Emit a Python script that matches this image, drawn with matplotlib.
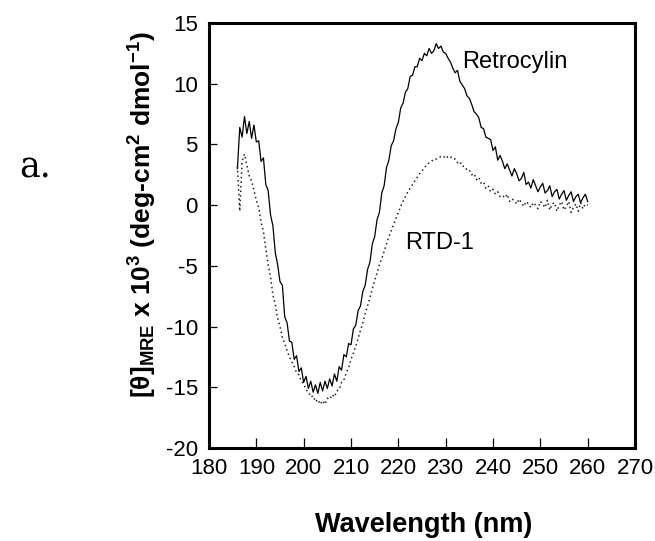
import matplotlib
matplotlib.use("Agg")
import matplotlib.pyplot as plt

plt.rcParams['font.family'] = ['Liberation Sans', 'DejaVu Sans']
plt.rcParams['axes.unicode_minus'] = False
plt.rcParams['mathtext.fontset'] = 'custom'
plt.rcParams['mathtext.rm'] = 'Liberation Sans:bold'
plt.rcParams['mathtext.bf'] = 'Liberation Sans:bold'
plt.rcParams['mathtext.it'] = 'Liberation Sans:bold'

wavelength = [
    186.0, 186.5, 187.0, 187.5, 188.0, 188.5, 189.0, 189.5, 190.0, 190.5,
    191.0, 191.5, 192.0, 192.5, 193.0, 193.5, 194.0, 194.5, 195.0, 195.5,
    196.0, 196.5, 197.0, 197.5, 198.0, 198.5, 199.0, 199.5, 200.0, 200.5,
    201.0, 201.5, 202.0, 202.5, 203.0, 203.5, 204.0, 204.5, 205.0, 205.5,
    206.0, 206.5, 207.0, 207.5, 208.0, 208.5, 209.0, 209.5, 210.0, 210.5,
    211.0, 211.5, 212.0, 212.5, 213.0, 213.5, 214.0, 214.5, 215.0, 215.5,
    216.0, 216.5, 217.0, 217.5, 218.0, 218.5, 219.0, 219.5, 220.0, 220.5,
    221.0, 221.5, 222.0, 222.5, 223.0, 223.5, 224.0, 224.5, 225.0, 225.5,
    226.0, 226.5, 227.0, 227.5, 228.0, 228.5, 229.0, 229.5, 230.0, 230.5,
    231.0, 231.5, 232.0, 232.5, 233.0, 233.5, 234.0, 234.5, 235.0, 235.5,
    236.0, 236.5, 237.0, 237.5, 238.0, 238.5, 239.0, 239.5, 240.0, 240.5,
    241.0, 241.5, 242.0, 242.5, 243.0, 243.5, 244.0, 244.5, 245.0, 245.5,
    246.0, 246.5, 247.0, 247.5, 248.0, 248.5, 249.0, 249.5, 250.0, 250.5,
    251.0, 251.5, 252.0, 252.5, 253.0, 253.5, 254.0, 254.5, 255.0, 255.5,
    256.0, 256.5, 257.0, 257.5, 258.0, 258.5, 259.0, 259.5, 260.0,
]

retrocylin = [
    3.0, 6.4, 5.6, 7.3, 5.9, 6.9, 5.5, 6.6, 5.2, 5.3,
    3.6, 3.9, 1.7, 1.2, -0.8, -1.7, -3.9, -4.9, -6.3, -6.6,
    -9.2, -9.7, -11.2, -11.3, -12.7, -12.4, -13.7, -13.4, -14.6, -14.1,
    -15.1, -14.5, -15.4, -14.8, -15.5, -14.6, -15.3, -14.5, -15.1, -14.3,
    -14.9, -13.9, -14.5, -13.3, -13.6, -12.3, -12.5, -11.4, -11.5, -10.2,
    -9.9, -8.7, -8.3, -7.1, -6.6, -5.3, -4.7, -3.2, -2.6, -1.2,
    -0.6, 1.0, 1.6, 3.1, 3.7, 4.9, 5.3, 6.3, 6.8, 8.0,
    8.4, 9.3, 9.6, 10.6, 10.7, 11.4, 11.4, 12.1, 11.9, 12.5,
    12.3, 12.9, 12.5, 12.7, 13.3, 12.9, 13.1, 12.6, 12.5, 12.1,
    11.8, 11.3, 10.9, 11.1, 10.2, 9.9, 9.6, 9.0, 8.8, 8.3,
    7.7, 7.5, 7.2, 6.4, 6.3, 5.6, 5.5, 5.4, 4.5, 4.8,
    3.7, 4.1, 3.6, 3.0, 3.4, 2.9, 2.4, 3.0, 2.6, 2.0,
    2.2, 2.7, 1.7, 1.9, 1.4, 2.1, 1.6, 1.1, 1.5, 1.8,
    1.0, 1.2, 1.6, 0.7, 1.1, 1.3, 0.5, 0.9, 1.2, 0.4,
    0.8, 1.1, 0.3, 0.7, 0.9, 0.2, 0.6, 0.9, 0.3,
]

rtd1 = [
    3.2, -0.5, 3.6, 4.2, 3.3, 2.4, 2.0, 1.2, 0.4, -0.2,
    -1.4, -2.2, -3.6, -4.9, -5.9, -7.4, -8.2, -9.3, -10.0, -10.9,
    -11.4, -12.0, -12.5, -12.9, -13.3, -13.8, -14.0, -14.5, -14.7, -15.2,
    -15.4, -15.8, -15.7, -16.2, -16.0, -16.4, -16.1, -16.4, -15.9, -16.0,
    -15.6, -15.8, -15.3, -15.2, -14.6, -14.4, -13.8, -13.4, -12.7, -12.2,
    -11.6, -11.0, -10.3, -9.7, -8.9, -8.3, -7.6, -6.9, -6.2, -5.6,
    -4.9, -4.4, -3.8, -3.2, -2.6, -2.1, -1.6, -1.1, -0.6, -0.1,
    0.3, 0.7, 1.1, 1.4, 1.7, 2.0, 2.3, 2.6, 2.8, 3.1,
    3.3, 3.5, 3.6, 3.8, 3.8, 3.9, 4.0, 3.9, 4.1, 3.9,
    4.0, 3.8, 3.8, 3.5, 3.6, 3.2, 3.2, 2.9, 2.9, 2.5,
    2.6, 2.1, 2.3, 1.8, 1.9, 1.4, 1.6, 1.1, 1.3, 0.9,
    1.1, 0.7, 0.8, 0.6, 0.9, 0.3, 0.5, 0.4, 0.1, 0.5,
    0.2, -0.1, 0.3, 0.1, -0.2, 0.2, 0.0, -0.3, 0.3, 0.1,
    -0.2, 0.4, -0.4, 0.1, 0.2, -0.5, 0.0, 0.3, -0.4, -0.1,
    0.3, -0.6, -0.2, 0.1, -0.5, 0.2, -0.3, 0.1, 0.0,
]

xticks = [180, 190, 200, 210, 220, 230, 240, 250, 260, 270]
yticks = [-20, -15, -10, -5, 0, 5, 10, 15]

fig = plt.figure(figsize=(6.55, 5.41), dpi=100)
ax = fig.add_axes([209 / 655, 1 - 448 / 541, (635 - 209) / 655, (448 - 23) / 541])

ax.plot(wavelength, retrocylin, color='black', lw=0.9)
ax.plot(wavelength, rtd1, color='#222222', lw=1.1, linestyle=(0, (1, 2)))

ax.set_xlim(180, 270)
ax.set_ylim(-20, 15)
ax.set_xticks(xticks)
ax.set_yticks(yticks)
ax.set_xticklabels([str(t) for t in xticks])
ax.set_yticklabels([str(t) for t in yticks])

for s in ax.spines.values():
    s.set_linewidth(2.2)
    s.set_color('black')

ax.tick_params(axis='x', direction='in', length=7, width=0.9, labelsize=16, pad=7,
               top=False)
ax.tick_params(axis='y', direction='in', length=6, width=0.9, labelsize=16, pad=8,
               right=False)

ax.text(233.5, 11.8, 'Retrocylin', fontsize=17, ha='left', va='center')
ax.text(221.4, -3.1, 'RTD-1', fontsize=17, ha='left', va='center')

fig.text(424 / 655, 1 - 525 / 541, 'Wavelength (nm)', fontsize=19.5,
         fontweight='bold', ha='center', va='center')
fig.text(143 / 655, 1 - 215 / 541,
         r'[$\theta$]$_{\mathrm{MRE}}$ x 10$^{\mathrm{3}}$ (deg-cm$^{\mathrm{2}}$ dmol$^{\mathrm{-1}}$)',
         fontsize=19, fontweight='bold', rotation=90, ha='center', va='center')
fig.text(35 / 655, 1 - 167 / 541, 'a.', fontsize=25, family='DejaVu Serif',
         ha='center', va='center')

fig.savefig('out.png', dpi=100)
